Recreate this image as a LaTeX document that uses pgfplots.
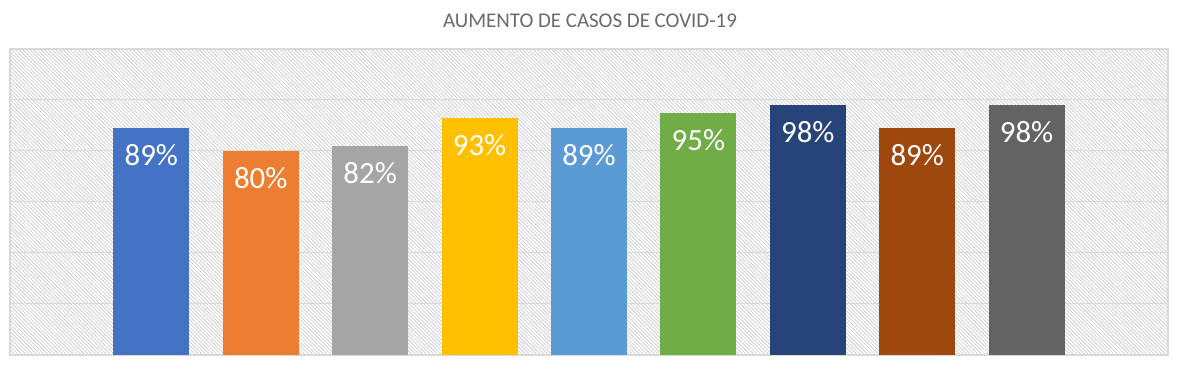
\documentclass[border=0pt]{standalone}
\usepackage{pgfplots}
\pgfplotsset{compat=1.18}
\usepackage{fontspec}
\setmainfont{Carlito}
\usetikzlibrary{patterns.meta}
\definecolor{c1}{HTML}{4472C4}
\definecolor{c2}{HTML}{ED7D31}
\definecolor{c3}{HTML}{A5A5A5}
\definecolor{c4}{HTML}{FFC000}
\definecolor{c5}{HTML}{5B9BD5}
\definecolor{c6}{HTML}{70AD47}
\definecolor{c7}{HTML}{264478}
\definecolor{c8}{HTML}{9E480E}
\definecolor{c9}{HTML}{636363}
\definecolor{gridc}{HTML}{D9D9D9}
\definecolor{hatchc}{HTML}{D0D0D0}
\definecolor{titlec}{HTML}{6A6A6A}
\begin{document}
\begin{tikzpicture}
\useasboundingbox (0,0) rectangle (1180bp,369bp);
\node[text=titlec, font=\fontsize{21}{21}\selectfont, anchor=center] at (590bp,348bp) {AUMENTO DE CASOS DE COVID-19};
\begin{axis}[
  at={(10bp,14bp)}, anchor=south west,
  scale only axis,
  width=1158bp, height=306bp,
  xmin=-1.292, xmax=9.292,
  ymin=0, ymax=120,
  ytick={0,20,...,120},
  xtick=\empty,
  yticklabels={},
  major tick length=0pt,
  ymajorgrids,
  grid style={gridc, line width=1bp},
  axis line style={gridc, line width=1.2bp},
  axis background/.style={pattern={Lines[angle=-45,distance=2.6bp,line width=0.8bp]}, pattern color=hatchc},
  /pgf/number format/assume math mode=true,
  ybar, bar width=76bp, bar shift=0pt,
  every axis plot/.append style={draw=none},
  nodes near coords={\pgfmathprintnumber{\pgfplotspointmeta}\%},
  every node near coord/.append style={anchor=north, inner sep=0pt, yshift=-16bp, text=white, font=\fontsize{31}{31}\selectfont},
]
\addplot[fill=c1] coordinates {(0,89)};
\addplot[fill=c2] coordinates {(1,80)};
\addplot[fill=c3] coordinates {(2,82)};
\addplot[fill=c4] coordinates {(3,93)};
\addplot[fill=c5] coordinates {(4,89)};
\addplot[fill=c6] coordinates {(5,95)};
\addplot[fill=c7] coordinates {(6,98)};
\addplot[fill=c8] coordinates {(7,89)};
\addplot[fill=c9] coordinates {(8,98)};
\end{axis}
\end{tikzpicture}
\end{document}
